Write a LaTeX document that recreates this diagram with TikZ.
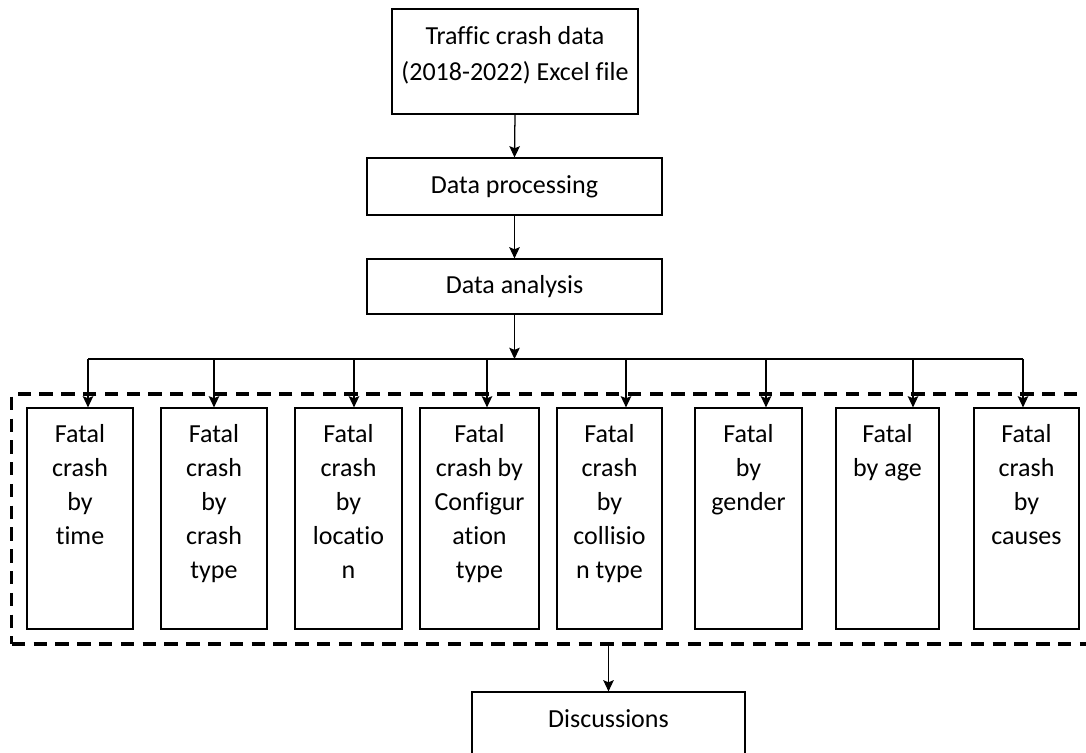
\documentclass[tikz,border=0pt]{standalone}
\usepackage{fontspec}
\setmainfont{Carlito}[Ligatures=CommonOff]
\usepackage{tikz}
\usetikzlibrary{arrows.meta, positioning, calc}

\begin{document}
\begin{tikzpicture}[
  x=0.025cm, y=-0.025cm,
  every node/.style={font=\fontsize{18.5}{24.2}\selectfont},
  stagebox/.style={rectangle, draw=black, line width=0.8pt, inner sep=0pt},
  boxtext/.style={inner sep=0pt, anchor=north, align=center, yshift=-0.425cm},
  arr/.style={draw=black, line width=0.9pt, -{Stealth[length=8pt, width=7.5pt, inset=1.5pt]}},
  framebox/.style={rectangle, draw=black, line width=2.2pt, dash pattern=on 9.5pt off 6pt, inner sep=0pt},
]
  \useasboundingbox (0,0) rectangle (1086,753);

  % pipeline
  \node[stagebox, minimum width=6.15cm, minimum height=2.625cm] (src) at (515,61.5) {};
  \node[inner sep=0pt, align=center] (srctext) at (515,55) {Traffic crash data\\[0.05cm](2018-2022) Excel file};
  \node[stagebox, minimum width=7.375cm, minimum height=1.425cm] (proc) at (514.5,186.5) {Data processing};
  \node[stagebox, minimum width=7.375cm, minimum height=1.375cm] (ana) at (514.5,286.5) {Data analysis};
  \draw[arr] (src.south) -- (proc.north);
  \draw[arr] (proc.south) -- (ana.north);

  % dashed frame round the outputs
  \node[framebox, minimum width=27.075cm, minimum height=6.25cm] (frame) at (553.5,519) {};

  % outputs
  \foreach \i/\cx/\w/\ax/\txt in {
      1/80/2.65/88/{Fatal\\crash\\by\\time},
      2/214/2.65/214/{Fatal\\crash\\by\\crash\\type},
      3/348.5/2.675/354/{Fatal\\crash\\by\\locatio\\n},
      4/479.5/2.975/487/{Fatal\\crash by\\Configur\\ation\\type},
      5/609.5/2.625/626/{Fatal\\crash\\by\\collisio\\n type},
      6/748.5/2.675/766/{Fatal\\by\\gender},
      7/887.5/2.575/913/{Fatal\\by age},
      8/1026.5/2.625/1023/{Fatal\\crash\\by\\causes}} {
    \node[stagebox, minimum width=\w cm, minimum height=5.525cm] (b\i) at (\cx,518.5) {};
    \node[boxtext] (l\i) at (b\i.north) {\txt};
    \coordinate (t\i) at (\ax,359);
    \draw[arr] (t\i) -- (t\i |- b\i.north);
  }
  \draw[line width=0.9pt] (t1) -- (t8);
  \draw[arr] (ana.south) -- (ana.south |- t1);

  % discussions
  \node[stagebox, minimum width=6.825cm, minimum height=2cm] (disc) at (608.5,732) {};
  \node[inner sep=0pt] (disctext) at (608.5,719) {Discussions};
  \draw[arr] (disc.north |- frame.south) -- (disc.north);
\end{tikzpicture}
\end{document}
